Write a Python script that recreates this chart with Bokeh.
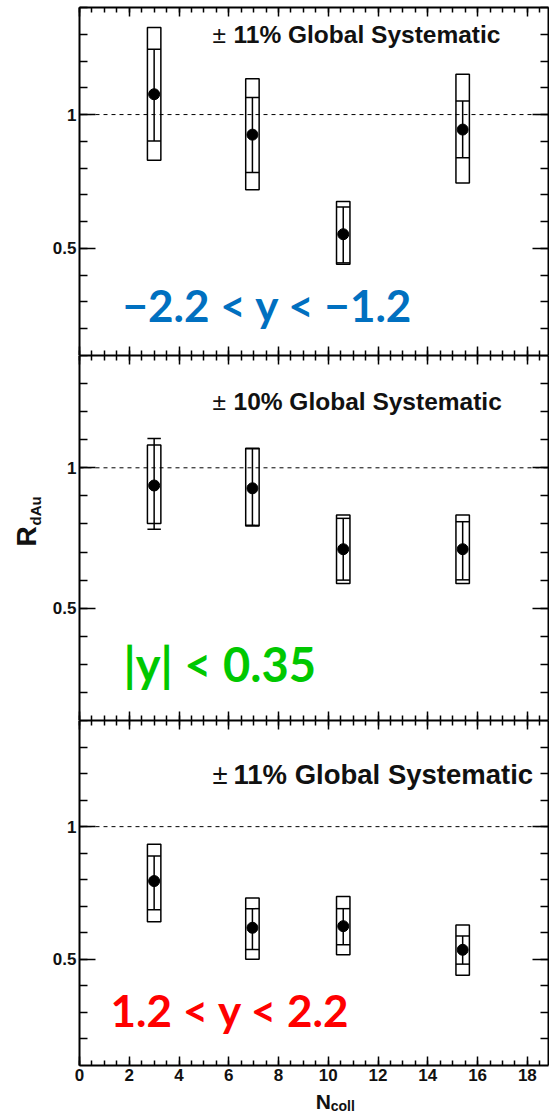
import numpy as np
from bokeh.plotting import figure
from bokeh.layouts import column, row
from bokeh.models import (Range1d, LinearAxis, SingleIntervalTicker, CustomJSTickFormatter,
                          Span, ColumnDataSource)
from bokeh.core.properties import value
from bokeh.embed import file_html
from bokeh.resources import INLINE

# ---- data: R_dAu vs N_coll in three rapidity windows ----
ncoll = [3.0, 6.95, 10.6, 15.4]

# -2.2 < y < -1.2
bwd_r = [1.076, 0.925, 0.553, 0.944]
bwd_stat_hi = [1.244, 1.064, 0.655, 1.051]
bwd_stat_lo = [0.901, 0.784, 0.446, 0.839]
bwd_sys_hi = [1.325, 1.134, 0.675, 1.151]
bwd_sys_lo = [0.829, 0.719, 0.441, 0.744]

# |y| < 0.35
mid_r = [0.937, 0.927, 0.710, 0.710]
mid_stat_hi = [1.104, 1.068, 0.820, 0.808]
mid_stat_lo = [0.781, 0.795, 0.600, 0.601]
mid_sys_hi = [1.081, 1.070, 0.832, 0.832]
mid_sys_lo = [0.802, 0.793, 0.588, 0.588]

# 1.2 < y < 2.2
fwd_r = [0.795, 0.619, 0.625, 0.536]
fwd_stat_hi = [0.889, 0.691, 0.691, 0.588]
fwd_stat_lo = [0.687, 0.537, 0.555, 0.482]
fwd_sys_hi = [0.934, 0.731, 0.737, 0.629]
fwd_sys_lo = [0.642, 0.500, 0.517, 0.440]

x_tick_step = 2
y_tick_step = 0.5

BOX_HW = 0.27
ROOT_FONT = "Liberation Sans"
TAG_FONT = "Lato"
INK = "#111111"

STRIP_W = 45          # left strip holding the y title
PANEL_W = 549 - STRIP_W
XT_H = 30             # bottom strip holding the x title


def bare_figure(w, h, xr, yr):
    f = figure(width=w, height=h, x_range=Range1d(*xr), y_range=Range1d(*yr),
               output_backend="svg", toolbar_location=None,
               x_axis_location=None, y_axis_location=None,
               min_border_left=0, min_border_right=0, min_border_top=0, min_border_bottom=0)
    f.grid.visible = False
    f.outline_line_color = None
    f.background_fill_color = "white"
    f.border_fill_color = "white"
    return f


def style_axis(ax, tick_in, minor_in, labels, size="15px", standoff=3):
    ax.axis_line_width = 2
    ax.axis_line_color = "black"
    ax.major_tick_in = tick_in
    ax.major_tick_out = 0
    ax.minor_tick_in = minor_in
    ax.minor_tick_out = 0
    ax.major_tick_line_width = 1.5
    ax.minor_tick_line_width = 1.5
    ax.major_tick_line_color = "black"
    ax.minor_tick_line_color = "black"
    if labels:
        ax.major_label_text_font = ROOT_FONT
        ax.major_label_text_font_style = "bold"
        ax.major_label_text_font_size = size
        ax.major_label_text_color = INK
        ax.major_label_standoff = standoff
    else:
        ax.formatter = CustomJSTickFormatter(code="return ''")
        ax.major_label_text_font_size = "0px"
        ax.major_label_standoff = 0


def make_panel(height, top, bottom, r, stat_hi, stat_lo, sys_hi, sys_lo, x_labels):
    p = figure(width=PANEL_W, height=height, x_range=Range1d(0, 18.85), y_range=Range1d(0.1, 1.4),
               output_backend="svg", toolbar_location=None,
               x_axis_location=None, y_axis_location=None,
               min_border_left=79 - STRIP_W, min_border_right=1,
               min_border_top=top, min_border_bottom=bottom)
    p.grid.visible = False
    p.outline_line_color = None
    p.background_fill_color = "white"
    p.border_fill_color = "white"

    # y axes (left labelled, right mirrored)
    for side, lab in (("left", True), ("right", False)):
        ax = LinearAxis(ticker=SingleIntervalTicker(interval=y_tick_step, num_minor_ticks=5))
        if lab:
            ax.formatter = CustomJSTickFormatter(code="return String(Math.round(tick*10)/10)")
        style_axis(ax, 16, 8, lab, size="17px", standoff=3)
        p.add_layout(ax, side)

    # x axes (bottom labelled only in the last panel, top mirrored)
    for side, lab in (("below", x_labels), ("above", False)):
        ax = LinearAxis(ticker=SingleIntervalTicker(interval=x_tick_step, num_minor_ticks=4))
        style_axis(ax, 9, 5, lab, size="17px", standoff=3)
        p.add_layout(ax, side)

    p.add_layout(Span(location=1.0, dimension="width", line_color="black",
                      line_width=1, line_dash="4 4"))

    src = ColumnDataSource(dict(
        x=ncoll, r=r, shi=stat_hi, slo=stat_lo, yhi=sys_hi, ylo=sys_lo,
        left=[v - BOX_HW for v in ncoll], right=[v + BOX_HW for v in ncoll],
    ))
    p.quad(left="left", right="right", top="yhi", bottom="ylo", source=src,
           fill_color=None, line_color="black", line_width=1.5)
    p.segment(x0="x", x1="x", y0="slo", y1="shi", source=src, line_color="black", line_width=1.5)
    p.segment(x0="left", x1="right", y0="shi", y1="shi", source=src, line_color="black", line_width=1.5)
    p.segment(x0="left", x1="right", y0="slo", y1="slo", source=src, line_color="black", line_width=1.5)
    p.scatter(x="x", y="r", source=src, marker="circle", size=11, fill_color="black", line_color="black")
    return p


def global_syst(p, pct, y, size):
    p.text(x=[5.35], y=[y], text=["±"], text_font=value(ROOT_FONT), text_font_size=size,
           text_color=INK, text_align="left", text_baseline="alphabetic")
    p.text(x=[6.19], y=[y], text=[f"{pct}% Global Systematic"], text_font=value(ROOT_FONT),
           text_font_style="bold", text_font_size=size, text_color=INK,
           text_align="left", text_baseline="alphabetic")


def tag(p, txt, x, y, color, size="44px"):
    p.text(x=[x], y=[y], text=[txt], text_font=value(TAG_FONT), text_font_style="bold",
           text_font_size=size, text_color=color, text_align="left", text_baseline="alphabetic")


p1 = make_panel(355, 7, 0, bwd_r, bwd_stat_hi, bwd_stat_lo, bwd_sys_hi, bwd_sys_lo, False)
global_syst(p1, 11, 1.298, "24.5px")
tag(p1, "\u22122.2 < y < \u22121.2", 1.73, 0.288, "#0070C0")

p2 = make_panel(365, 0, 0, mid_r, mid_stat_hi, mid_stat_lo, mid_sys_hi, mid_sys_lo, False)
global_syst(p2, 10, 1.236, "24.5px")
tag(p2, "|y| < 0.35", 1.77, 0.300, "#00C800", size="47px")

p3 = make_panel(1118 - 355 - 365 - XT_H, 0, 23, fwd_r, fwd_stat_hi, fwd_stat_lo,
                fwd_sys_hi, fwd_sys_lo, True)
global_syst(p3, 11, 1.198, "27.5px")
tag(p3, "1.2 < y < 2.2", 1.25, 0.310, "#FF0000")

# x title strip below the last panel (pixel-like coordinates, y measured upward)
xt = bare_figure(PANEL_W, XT_H, (0, PANEL_W), (0, XT_H))
xt.text(x=[299 - STRIP_W], y=[XT_H - 1], text=["N"], text_font=value(ROOT_FONT),
        text_font_style="bold", text_font_size="21px", text_color=INK,
        text_align="left", text_baseline="top")
xt.text(x=[315 - STRIP_W], y=[XT_H - 9], text=["coll"], text_font=value(ROOT_FONT),
        text_font_style="bold", text_font_size="14px", text_color=INK,
        text_align="left", text_baseline="top")

# y title strip to the left of the panels
yt = bare_figure(STRIP_W, 1118, (0, STRIP_W), (0, 1118))
yt.text(x=[26], y=[1118 - 546], text=["R"], angle=np.pi / 2, text_font=value(ROOT_FONT),
        text_font_style="bold", text_font_size="28px", text_color=INK,
        text_align="left", text_baseline="alphabetic")
yt.text(x=[35], y=[1118 - 525], text=["dAu"], angle=np.pi / 2, text_font=value(ROOT_FONT),
        text_font_style="bold", text_font_size="15px", text_color=INK,
        text_align="left", text_baseline="alphabetic")

layout = row(yt, column(p1, p2, p3, xt, spacing=0), spacing=0)
open("out.html", "w").write(file_html(layout, INLINE))
